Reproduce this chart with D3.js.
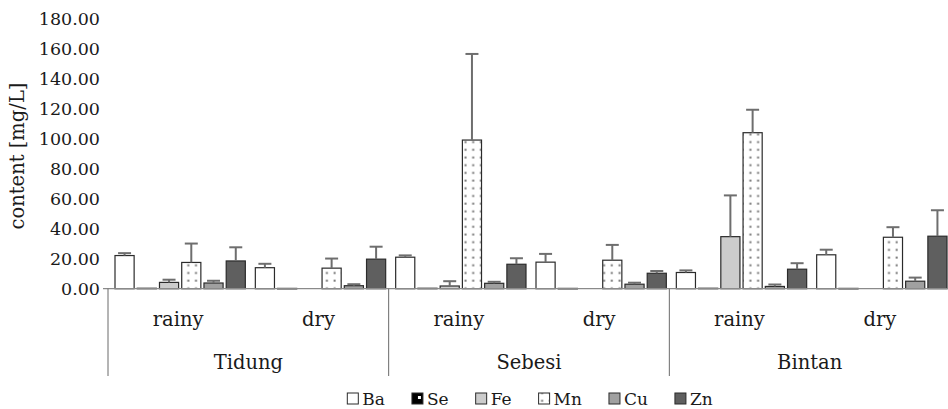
<!DOCTYPE html>
<html>
<head>
<meta charset="utf-8">
<script src="https://cdn.jsdelivr.net/npm/d3@7"></script>
<style>
  body { margin: 0; background: #fff; }
  svg text { fill: #1a1a1a; }
</style>
</head>
<body>
<div id="chart"></div>
<script>
// ---------- Data ----------
const sites = ["Tidung", "Sebesi", "Bintan"];
const seasons = ["rainy", "dry"];
const elements = ["Ba", "Se", "Fe", "Mn", "Cu", "Zn"];
const yTicks = [0, 20, 40, 60, 80, 100, 120, 140, 160, 180];

// values in group order: Tidung rainy, Tidung dry, Sebesi rainy, Sebesi dry, Bintan rainy, Bintan dry
const ba = [22.1, 14.0, 21.0, 17.7, 10.8, 22.6];
const se = [0.3, 0.2, 0.3, 0.2, 0.3, 0.2];
const fe = [4.2, null, 1.8, null, 34.7, null];
const mn = [17.5, 13.7, 99.1, 19.0, 104.0, 34.3];
const cu = [3.8, 2.0, 3.6, 3.0, 1.5, 5.0];
const zn = [18.5, 19.7, 16.3, 10.3, 13.0, 35.0];

const baErr = [1.6, 2.6, 1.2, 5.5, 1.4, 3.4];
const seErr = [0, 0, 0, 0, 0, 0];
const feErr = [1.8, 0, 3.2, 0, 27.5, 0];
const mnErr = [12.6, 6.4, 57.4, 10.2, 15.3, 6.7];
const cuErr = [1.5, 1.0, 1.0, 1.0, 1.3, 2.4];
const znErr = [9.1, 8.3, 4.0, 1.5, 4.0, 17.3];

const values = { Ba: ba, Se: se, Fe: fe, Mn: mn, Cu: cu, Zn: zn };
const errors = { Ba: baErr, Se: seErr, Fe: feErr, Mn: mnErr, Cu: cuErr, Zn: znErr };

const groups = [];
sites.forEach(s => seasons.forEach(p => groups.push(s + "|" + p)));

const rows = [];
groups.forEach((g, i) => {
    elements.forEach(el => {
        if (values[el][i] != null) {
            rows.push({ group: g, el: el, v: values[el][i], e: errors[el][i] });
        }
    });
});

// ---------- Dimensions ----------
const W = 948, H = 409;
const margin = { left: 108 };
const plotW = 842;
const baseY = 288.7;

const svg = d3.select("#chart").append("svg")
    .attr("width", W)
    .attr("height", H);

// ---------- Font pick (wide serif if present) ----------
function textWidth(family) {
    const t = svg.append("text")
        .style("font-family", family)
        .style("font-size", "40px")
        .text("Tidung content mg 0123456789");
    const w = t.node().getComputedTextLength();
    t.remove();
    return w;
}
const wDV = textWidth('"DejaVu Serif", monospace');
const hasDejaVuSerif = [ 'monospace', '"DejaVu Sans", monospace', '"Liberation Sans", monospace' ]
    .every(f => Math.abs(textWidth(f) - wDV) > 0.5);

const fontCfg = hasDejaVuSerif
    ? { family: '"DejaVu Serif", serif', tick: 17.5, label: 19.5, legend: 17, ls: 0 }
    : { family: '"Liberation Serif", serif', tick: 22, label: 21, legend: 19.5, ls: 1.5 };
svg.style("font-family", fontCfg.family);

// ---------- Patterns ----------
const defs = svg.append("defs");
const dots = defs.append("pattern")
    .attr("id", "dots")
    .attr("patternUnits", "userSpaceOnUse")
    .attr("width", 7.7).attr("height", 7.7);
dots.append("rect").attr("width", 7.7).attr("height", 7.7).attr("fill", "#fff");
dots.append("rect").attr("x", 2.5).attr("y", 2.5).attr("width", 2).attr("height", 2).attr("fill", "#777");

const checker = defs.append("pattern")
    .attr("id", "checker")
    .attr("patternUnits", "userSpaceOnUse")
    .attr("width", 11).attr("height", 11);
checker.append("rect").attr("width", 11).attr("height", 11).attr("fill", "#000");
checker.append("rect").attr("x", 6).attr("y", 2).attr("width", 3).attr("height", 3).attr("fill", "#fff");

const fills = {
    Ba: "#ffffff",
    Se: "url(#checker)",
    Fe: "#cccccc",
    Mn: "url(#dots)",
    Cu: "#a0a0a0",
    Zn: "#5f5f5f"
};

// ---------- Scales ----------
const x0 = d3.scaleBand()
    .domain(groups)
    .range([margin.left, margin.left + plotW]);

const x1 = d3.scaleBand()
    .domain(elements)
    .range([7, x0.bandwidth() - 3])
    .paddingInner(0.14);

const y = d3.scaleLinear()
    .domain([0, 180])
    .range([baseY, baseY - 270]);

// ---------- Y axis ----------
const yAxis = svg.append("g")
    .attr("transform", `translate(${margin.left},0)`)
    .call(d3.axisLeft(y).tickValues(yTicks).tickFormat(d3.format(".2f")).tickSize(0).tickPadding(8));
yAxis.select(".domain").remove();
yAxis.attr("font-family", null).attr("font-size", null);
yAxis.selectAll("text")
    .style("font-size", fontCfg.tick + "px")
    .attr("fill", "#1a1a1a");

svg.append("text")
    .attr("transform", `translate(24,${156}) rotate(-90)`)
    .attr("text-anchor", "middle")
    .style("font-size", fontCfg.label + "px")
    .style("letter-spacing", fontCfg.ls + "px")
    .text("content [mg/L]");

// ---------- Bars ----------
svg.append("g").selectAll("rect")
    .data(rows)
    .join("rect")
    .attr("x", d => x0(d.group) + x1(d.el))
    .attr("width", x1.bandwidth())
    .attr("y", d => y(d.v))
    .attr("height", d => Math.max(0.5, y(0) - y(d.v)))
    .attr("fill", d => fills[d.el])
    .attr("stroke", "#2b2b2b")
    .attr("stroke-width", 1.2);

// ---------- Error bars ----------
const errG = svg.append("g")
    .attr("stroke", "#6e6e6e")
    .attr("stroke-width", 2);
const errRows = rows.filter(d => d.e > 0);
const cx = d => x0(d.group) + x1(d.el) + x1.bandwidth() / 2;
errG.selectAll("line.v")
    .data(errRows)
    .join("line")
    .attr("class", "v")
    .attr("x1", cx).attr("x2", cx)
    .attr("y1", d => y(d.v))
    .attr("y2", d => y(d.v + d.e));
errG.selectAll("line.c")
    .data(errRows)
    .join("line")
    .attr("class", "c")
    .attr("x1", d => cx(d) - 6.5)
    .attr("x2", d => cx(d) + 6.5)
    .attr("y1", d => y(d.v + d.e))
    .attr("y2", d => y(d.v + d.e));

// ---------- X axis ----------
svg.append("line")
    .attr("x1", margin.left - 5).attr("x2", margin.left + plotW)
    .attr("y1", baseY).attr("y2", baseY)
    .attr("stroke", "#8a8a8a").attr("stroke-width", 1.2);

const siteW = x0.step() * seasons.length;
svg.append("g").selectAll("line")
    .data(sites)
    .join("line")
    .attr("x1", (d, i) => margin.left + i * siteW)
    .attr("x2", (d, i) => margin.left + i * siteW)
    .attr("y1", baseY).attr("y2", 376)
    .attr("stroke", "#6a6a6a").attr("stroke-width", 1);

svg.append("g").selectAll("text")
    .data(groups)
    .join("text")
    .attr("x", d => x0(d) + x0.bandwidth() / 2)
    .attr("y", 326)
    .attr("text-anchor", "middle")
    .style("font-size", fontCfg.label + "px")
    .style("letter-spacing", fontCfg.ls + "px")
    .text(d => d.split("|")[1]);

svg.append("g").selectAll("text")
    .data(sites)
    .join("text")
    .attr("x", (d, i) => margin.left + i * siteW + siteW / 2)
    .attr("y", 369)
    .attr("text-anchor", "middle")
    .style("font-size", fontCfg.label + "px")
    .style("letter-spacing", fontCfg.ls + "px")
    .text(d => d);

// ---------- Legend ----------
const legend = svg.append("g");
let lx = 0;
elements.forEach(el => {
    const item = legend.append("g").attr("transform", `translate(${lx},0)`);
    item.append("rect")
        .attr("x", 0).attr("y", -12)
        .attr("width", 11).attr("height", 11)
        .attr("fill", fills[el])
        .attr("stroke", "#2b2b2b").attr("stroke-width", 1);
    const t = item.append("text")
        .attr("x", 15).attr("y", 0)
        .style("font-size", fontCfg.legend + "px")
        .text(el);
    lx += 15 + t.node().getComputedTextLength() + 27;
});
legend.attr("transform", `translate(${530 - (lx - 27) / 2},${405})`);
</script>
</body>
</html>
